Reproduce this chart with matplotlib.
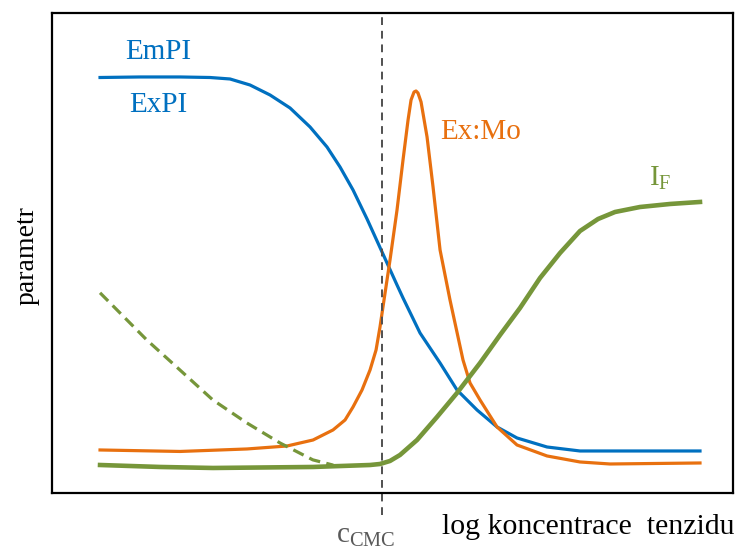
import matplotlib
matplotlib.use("Agg")
import matplotlib.pyplot as plt

plt.rcParams["font.family"] = ["Liberation Serif", "DejaVu Serif"]
plt.rcParams["mathtext.fontset"] = "custom"
plt.rcParams["mathtext.rm"] = "Liberation Serif"

# emission / excitation polarity index
empi_x = [7.05, 12.92, 18.80, 23.20, 26.14, 29.07, 32.01, 34.95, 37.89, 40.38,
          42.29, 44.20, 46.26, 48.46, 50.66, 51.54, 54.04, 56.98, 59.47, 62.41,
          65.35, 68.28, 72.69, 77.53, 95.15]
empi_y = [86.56, 86.67, 86.67, 86.56, 86.25, 85.0, 82.92, 80.21, 76.25, 72.08,
          67.92, 63.13, 57.08, 50.21, 43.33, 40.63, 33.33, 27.08, 21.46, 17.29,
          13.75, 11.46, 9.58, 8.75, 8.75]

# excimer : monomer ratio
exmo_x = [7.05, 18.80, 28.63, 34.51, 38.33, 41.26, 43.03, 44.20, 45.52, 46.70,
          47.58, 48.16, 48.75, 49.63, 50.66, 51.54, 52.28, 52.72, 53.16, 53.45,
          53.74, 54.19, 55.07, 55.95, 56.98, 58.44, 60.35, 61.38, 62.85, 65.35,
          68.28, 72.69, 77.53, 81.94, 95.15]
exmo_y = [8.96, 8.65, 9.17, 9.79, 11.04, 13.13, 15.21, 17.92, 21.46, 25.63,
          29.79, 34.58, 40.21, 48.54, 58.96, 69.38, 77.71, 81.88, 83.54, 83.75,
          83.33, 81.46, 74.17, 63.75, 50.63, 40.21, 27.71, 22.92, 19.38, 13.75,
          10.0, 7.71, 6.46, 6.04, 6.25]

# fluorescence intensity
if_x = [7.05, 15.86, 23.64, 38.33, 46.70, 48.16, 49.63, 51.10, 53.60, 56.53,
        59.47, 62.85, 65.79, 68.72, 71.66, 74.60, 77.53, 80.18, 82.67, 86.34,
        90.75, 95.15]
if_y = [5.83, 5.42, 5.21, 5.42, 5.83, 6.04, 6.67, 7.92, 11.04, 15.83,
        20.83, 27.08, 32.92, 38.54, 44.79, 50.0, 54.58, 57.08, 58.54, 59.58,
        60.21, 60.63]

# quenched branch below CMC
ifq_x = [7.05, 13.9, 18.8, 23.6, 28.6, 33.5, 38.3, 41.3]
ifq_y = [41.7, 31.9, 25.6, 19.4, 14.6, 10.4, 6.9, 5.8]

cmc = 48.5

blue = "#0070C0"
orange = "#E8700F"
green = "#76963A"

fig = plt.figure(figsize=(7.37, 5.48), dpi=100)
ax = fig.add_axes([0.0706, 0.1004, 0.9240, 0.8759])

ax.plot(empi_x, empi_y, color=blue, lw=2.3, solid_joinstyle="round")
ax.plot(exmo_x, exmo_y, color=orange, lw=2.3, solid_joinstyle="round")
ax.plot(ifq_x, ifq_y, color=green, lw=2.3, ls=(0, (3.6, 2.0)))
ax.plot(if_x, if_y, color=green, lw=3.3, solid_joinstyle="round")

ax.axvline(cmc, ymin=-0.045, ymax=1, color="#505050", lw=1.4,
           ls=(0, (4, 3)), clip_on=False)

ax.set_xlim(0, 100)
ax.set_ylim(0, 100)
ax.set_xticks([])
ax.set_yticks([])
for s in ax.spines.values():
    s.set_linewidth(1.6)

fs = 21
ax.text(15.6, 91.9, "EmPI", color=blue, fontsize=fs, ha="center", va="center")
ax.text(15.6, 80.8, "ExPI", color=blue, fontsize=fs, ha="center", va="center")
ax.text(63.0, 75.2, "Ex:Mo", color=orange, fontsize=fs, ha="center", va="center")
ax.text(89.3, 65.5, r"$\mathrm{I_F}$", color=green, fontsize=fs,
        ha="center", va="center")

ax.text(46.1, -9.0, r"$\mathrm{c_{CMC}}$", color="#595959", fontsize=fs,
        ha="center", va="center", clip_on=False)
ax.text(100.2, -7.0, "log koncentrace  tenzidu", color="black", fontsize=21.5,
        ha="right", va="center", clip_on=False)
fig.text(0.037, 0.533, "parametr", color="black", fontsize=20,
         rotation=90, ha="center", va="center")

fig.savefig("out.png", dpi=100)
